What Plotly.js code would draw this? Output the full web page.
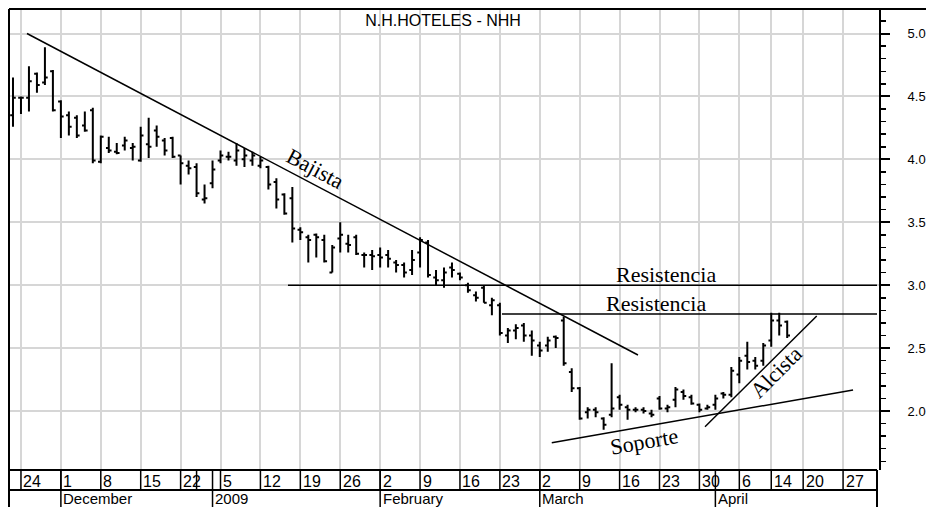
<!DOCTYPE html>
<html>
<head>
<meta charset="utf-8">
<script src="https://cdn.plot.ly/plotly-3.0.1.min.js"></script>
<style>
  html, body { margin: 0; padding: 0; background: #fff; }
  #chart { width: 926px; height: 507px; }
</style>
</head>
<body>
<div id="chart"></div>
<script>
// ---- Data: daily bars, N.H.HOTELES (NHH), 21 Nov 2008 - 16 Apr 2009 (trading-day order) ----
const high  = [4.65,4.50,4.74,4.69,4.89,4.71, 4.47,4.38,4.35,4.38,4.41, 4.19,4.18,4.13,4.18,4.13, 4.26,4.33,4.27,4.17,4.18,
               4.03,3.99,3.97,3.80,3.99, 4.07,4.06,4.13,4.09,4.06, 4.02,3.95,3.85,3.73,3.78, 3.46,3.40,3.41,3.40,3.32,
               3.50,3.40,3.40,3.26,3.28, 3.30,3.28,3.20,3.18,3.28, 3.38,3.36,3.12,3.14,3.18, 3.10,3.02,2.95,3.00,2.90,
               2.86,2.66,2.69,2.70,2.64, 2.55,2.59,2.60,2.75,2.34, 2.19,2.03,2.03,1.95,2.38, 2.13,2.05,2.03,2.03,2.01,
               2.12,2.05,2.19,2.17,2.13, 2.06,2.05,2.13,2.15,2.35, 2.43,2.55,2.43,2.54, 2.78,2.78,2.72];
const low   = [4.26,4.36,4.38,4.53,4.59,4.38, 4.17,4.19,4.17,4.22,3.97, 3.97,4.05,4.04,4.07,3.99, 3.98,4.01,4.10,4.03,4.01,
               3.80,3.88,3.70,3.65,3.77, 3.97,3.99,3.95,3.94,3.95, 3.93,3.76,3.61,3.56,3.34, 3.36,3.18,3.22,3.18,3.10,
               3.26,3.26,3.24,3.14,3.12, 3.14,3.14,3.10,3.06,3.08, 3.14,3.06,3.00,2.98,3.06, 3.04,2.94,2.87,2.86,2.76,
               2.60,2.54,2.57,2.55,2.44, 2.43,2.47,2.50,2.36,2.15, 1.93,1.94,1.95,1.85,1.95, 2.01,1.93,1.99,1.98,1.95,
               2.01,1.99,2.03,2.09,2.05, 1.99,2.01,2.01,2.10,2.11, 2.22,2.33,2.33,2.36, 2.51,2.60,2.58];
const open  = [4.35,4.49,4.49,4.68,4.61,4.70, 4.46,4.35,4.33,4.27,4.39, 3.98,4.09,4.06,4.11,4.09, 3.99,4.12,4.23,4.15,4.17,
               4.03,3.95,3.94,3.68,3.81, 3.99,4.02,3.99,4.00,3.99, 3.95,3.94,3.82,3.72,3.69, 3.44,3.38,3.40,3.36,3.10,
               3.37,3.33,3.38,3.24,3.24, 3.24,3.24,3.18,3.16,3.12, 3.26,3.34,3.06,3.04,3.14, 3.09,3.00,2.92,2.98,2.84,
               2.84,2.60,2.64,2.68,2.60, 2.52,2.52,2.59,2.72,2.31, 2.18,1.99,2.01,1.94,1.97, 2.11,2.03,2.01,2.01,1.98,
               2.10,2.02,2.09,2.15,2.11, 2.05,2.02,2.05,2.14,2.13, 2.29,2.44,2.40,2.40, 2.56,2.72,2.71];
const close = [4.49,4.49,4.62,4.59,4.65,4.39, 4.34,4.26,4.19,4.23,3.99, 4.18,4.07,4.05,4.15,4.10, 4.19,4.10,4.18,4.07,4.02,
               3.97,3.93,3.73,3.69,3.92, 4.03,4.02,4.07,4.03,4.03, 3.99,3.80,3.68,3.57,3.45, 3.42,3.36,3.38,3.19,3.30,
               3.40,3.32,3.25,3.24,3.23, 3.22,3.21,3.16,3.10,3.20, 3.36,3.08,3.04,3.10,3.12, 3.06,2.96,2.90,2.86,2.88,
               2.62,2.64,2.66,2.60,2.56, 2.48,2.56,2.58,2.38,2.18, 1.94,2.01,1.99,1.89,2.02, 2.05,2.01,2.01,2.00,1.97,
               2.02,2.03,2.17,2.12,2.06, 2.01,2.03,2.10,2.13,2.32, 2.40,2.39,2.36,2.52, 2.72,2.68,2.60];

// x axis: trading-day index (24 Nov 2008 = 0)
const weekTickIdx    = [0,5,10,15,20,25,30,35,40,45,50,55,60,65,70,75,80,85,90,94,98,103];
const weekTickLabels = ['24','1','8','15','22','5','12','19','26','2','9','16','23','2','9','16','23','30','6','14','20','27'];
const extraWeekSepIdx = [22];           // week of 29 Dec (no label)
const monthIdx    = [5,24,45,65,87];
const monthLabels = ['December','2009','February','March','April'];

// Hand-drawn analysis lines (trading-day index, price)
const lineBajista   = {x:[0.75,77.3],   y:[5.00,2.445]};
const lineResist1   = {x:[33.45,107.25], y:[3.00,3.00]};
const lineResist2   = {x:[60.26,107.25], y:[2.77,2.77]};
const lineSoporte   = {x:[66.5,104.25],  y:[1.748,2.167]};
const lineAlcista   = {x:[85.7,99.7],    y:[1.875,2.755]};
const lineLabels = [
  {text:'Bajista',     x:36.84, y:3.931, angle:28},
  {text:'Resistencia', x:80.8,  y:3.085, angle:0},
  {text:'Resistencia', x:79.56, y:2.858, angle:0},
  {text:'Soporte',     x:78.05, y:1.754, angle:-10},
  {text:'Alcista',     x:94.7,  y:2.310, angle:-45}
];

const dayIdx = open.map((_, i) => i - 1);

const trace = {
  type: 'ohlc',
  x: dayIdx, open: open, high: high, low: low, close: close,
  increasing: {line: {color: '#000', width: 2}},
  decreasing: {line: {color: '#000', width: 2}},
  tickwidth: 0.35,
  hoverinfo: 'none',
  showlegend: false
};

const GRID = '#d6d6d6';
const yRow1 = -20/461;   // boundary between date rows (paper)
const yBottom = -0.1;

const shapes = [];
function seg(L, w) {
  shapes.push({type:'line', xref:'x', yref:'y', x0:L.x[0], y0:L.y[0], x1:L.x[1], y1:L.y[1],
               line:{color:'#000', width:w}});
}
seg(lineBajista, 1.5); seg(lineResist1, 1.5); seg(lineResist2, 1.5); seg(lineSoporte, 1.5); seg(lineAlcista, 1.5);

// frame
shapes.push({type:'line', xref:'paper', yref:'paper', x0:0, x1:1.06, y0:1, y1:1, line:{color:'#000', width:2}});
shapes.push({type:'line', xref:'paper', yref:'paper', x0:0, x1:0, y0:1, y1:yBottom, line:{color:'#000', width:2}});
// date strip rows
shapes.push({type:'line', xref:'paper', yref:'paper', x0:0, x1:0.9977, y0:0, y1:0, line:{color:'#000', width:2}});
shapes.push({type:'line', xref:'paper', yref:'paper', x0:0, x1:0.9977, y0:yRow1, y1:yRow1, line:{color:'#000', width:2}});
shapes.push({type:'line', xref:'paper', yref:'paper', x0:0.9977, x1:0.9977, y0:0, y1:yBottom, line:{color:'#000', width:2}});
weekTickIdx.concat(extraWeekSepIdx).forEach(i => {
  shapes.push({type:'line', xref:'x', yref:'paper', x0:i, x1:i, y0:0, y1:yRow1, line:{color:'#000', width:1.5}});
});
monthIdx.forEach(i => {
  shapes.push({type:'line', xref:'x', yref:'paper', x0:i, x1:i, y0:0, y1:yBottom, line:{color:'#000', width:1.5}});
});

const annotations = [];
weekTickIdx.forEach((i, k) => {
  annotations.push({xref:'x', yref:'paper', x:i, y:-11/461, xanchor:'left', yanchor:'middle', xshift:1.5,
    text:weekTickLabels[k], showarrow:false, borderpad:0,
    font:{family:'Liberation Sans, Arial, sans-serif', size:16, color:'#000'}});
});
monthIdx.forEach((i, k) => {
  annotations.push({xref:'x', yref:'paper', x:i, y:-19.5/461, xanchor:'left', yanchor:'top', xshift:1.5,
    text:monthLabels[k], showarrow:false, borderpad:0,
    font:{family:'Liberation Sans, Arial, sans-serif', size:15, color:'#000'}});
});
lineLabels.forEach(a => {
  annotations.push({xref:'x', yref:'y', x:a.x, y:a.y, xanchor:'center', yanchor:'middle',
    text:a.text, textangle:a.angle, showarrow:false,
    font:{family:'Liberation Serif, Times New Roman, serif', size:22, color:'#000'}});
});

const layout = {
  width: 926, height: 507,
  margin: {l:9, r:47, t:9, b:37, pad:0},
  paper_bgcolor: '#fff', plot_bgcolor: '#fff',
  showlegend: false,
  title: {text: 'N.H.HOTELES - NHH', xref:'paper', x:0.4989, xanchor:'center',
          yref:'container', y:1 - 20.5/507, yanchor:'middle',
          font:{family:'Liberation Sans, Arial, sans-serif', size:16, color:'#000'}},
  xaxis: {
    range:[-1.5, 107.5], tickmode:'array', tickvals:weekTickIdx, showticklabels:false, ticks:'',
    showgrid:true, gridcolor:GRID, gridwidth:2, zeroline:false, showline:false,
    rangeslider:{visible:false}, fixedrange:true
  },
  yaxis: {
    side:'right', range:[1.531, 5.195], tick0:0, dtick:0.5, tickformat:'.1f',
    ticks:'outside', ticklen:9, tickwidth:2, tickcolor:'#000',
    showline:true, linecolor:'#000', linewidth:2,
    showgrid:true, gridcolor:GRID, gridwidth:2, zeroline:false,
    ticklabelstandoff:15,
    tickfont:{family:'Liberation Sans, Arial, sans-serif', size:13, color:'#000'},
    minor:{tick0:0, dtick:0.1, ticks:'outside', ticklen:5, tickwidth:1.5, tickcolor:'#000', showgrid:false},
    fixedrange:true
  },
  shapes: shapes,
  annotations: annotations
};

Plotly.newPlot('chart', [trace], layout, {displayModeBar:false, staticPlot:true});
</script>
</body>
</html>
